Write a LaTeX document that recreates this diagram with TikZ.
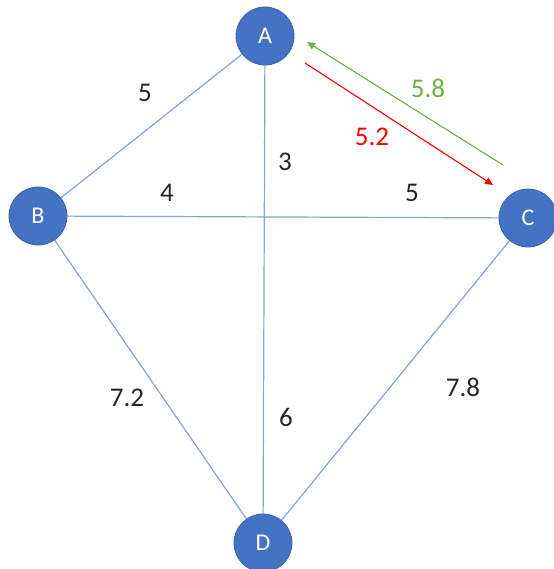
\documentclass[tikz,border=0pt]{standalone}
\usepackage{fontspec}
\setmainfont{Carlito}
\usetikzlibrary{arrows.meta,backgrounds}
\definecolor{nodeblue}{HTML}{4472C4}
\definecolor{nodeborder}{HTML}{3A63AE}
\definecolor{edgeblue}{HTML}{86A2D8}
\definecolor{arrgreen}{HTML}{70AD47}
\definecolor{arrred}{HTML}{FF0000}
\begin{document}
\begin{tikzpicture}[x=1pt,y=-1pt,
  vertex/.style={circle,fill=nodeblue,draw=nodeborder,line width=0.8pt,minimum size=58pt,inner sep=0pt,text=white,font=\fontsize{24}{28}\selectfont},
  edge/.style={draw=edgeblue,line width=1.2pt},
  wlabel/.style={font=\fontsize{27}{30}\selectfont,text=black!85,inner sep=0pt},
  flow/.style={line width=1.1pt,-{Triangle[length=8pt,width=7pt]}}]
\useasboundingbox (0,0) rectangle (553,569);
% nodes
\node[vertex] (A) at (265,36) {A};
\node[vertex] (B) at (38,216) {B};
\node[vertex] (C) at (528,218) {C};
\node[vertex] (D) at (263,543) {D};
% edges behind nodes
\begin{pgfonlayer}{background}
\path[edge] (A.center) -- (B.center);
\path[edge] (A.center) -- (D.center);
\path[edge] (B.center) -- (C.center);
\path[edge] (B.center) -- (D.center);
\path[edge] (C.center) -- (D.center);
\end{pgfonlayer}
% flow arrows
\coordinate (g1) at (503,165);
\coordinate (g2) at (307,42);
\coordinate (r1) at (305,63);
\coordinate (r2) at (493,185);
\draw[flow,draw=arrgreen,fill=arrgreen] (g1) -- (g2);
\draw[flow,draw=arrred,fill=arrred] (r1) -- (r2);
% labels
\node[wlabel] (lab) at (145,93) {5};
\node[wlabel] (lbc1) at (167,193) {4};
\node[wlabel] (lbc2) at (412,193) {5};
\node[wlabel] (lad1) at (285,162) {3};
\node[wlabel] (lad2) at (286,417) {6};
\node[wlabel] (lbd) at (127,398) {7.2};
\node[wlabel] (lcd) at (463,387) {7.8};
\node[wlabel,text=arrgreen] (lg) at (428,88) {5.8};
\node[wlabel,text=arrred] (lr) at (372,137) {5.2};
\end{tikzpicture}
\end{document}
